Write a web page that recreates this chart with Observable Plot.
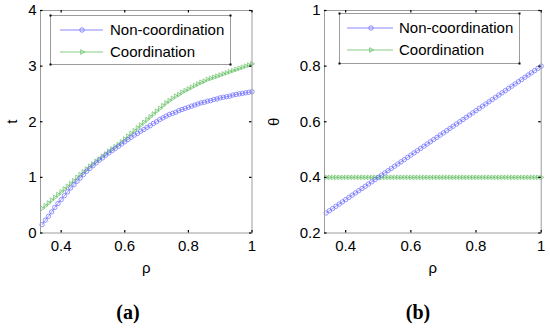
<!DOCTYPE html>
<html><head><meta charset="utf-8">
<script src="https://cdn.jsdelivr.net/npm/d3@7"></script>
<script src="https://cdn.jsdelivr.net/npm/@observablehq/plot@0.6"></script>
<style>
body{margin:0;background:#fff;}
#wrap{position:relative;width:550px;height:328px;overflow:hidden;background:#fff;font-family:"Liberation Sans",Arial,sans-serif;}
.panel{position:absolute;top:0}
.panel svg{overflow:visible}
.cap{position:absolute;font-family:"Liberation Serif","DejaVu Serif",serif;font-weight:bold;font-size:20px;transform:translateX(-50%);line-height:23px}
#legend{position:absolute;left:0;top:0;pointer-events:none}
</style></head><body>
<div id="wrap">
<div id="pa" class="panel" style="left:0"></div>
<div id="pb" class="panel" style="left:265px"></div>
<svg id="legend" width="550" height="328"></svg>
<div class="cap" style="left:128px;top:301px">(<span>a</span>)</div>
<div class="cap" style="left:418px;top:301px">(<span>b</span>)</div>
</div>
<script>
const rho = [0.34,0.35,0.36,0.37,0.38,0.39,0.40,0.41,0.42,0.43,
0.44,0.45,0.46,0.47,0.48,0.49,0.50,0.51,0.52,0.53,
0.54,0.55,0.56,0.57,0.58,0.59,0.60,0.61,0.62,0.63,
0.64,0.65,0.66,0.67,0.68,0.69,0.70,0.71,0.72,0.73,
0.74,0.75,0.76,0.77,0.78,0.79,0.80,0.81,0.82,0.83,
0.84,0.85,0.86,0.87,0.88,0.89,0.90,0.91,0.92,0.93,
0.94,0.95,0.96,0.97,0.98,0.99,1.00];

const tNon = [0.15,0.23,0.30,0.38,0.46,0.53,0.60,0.67,0.74,0.81,
0.87,0.93,0.99,1.05,1.11,1.16,1.21,1.26,1.31,1.35,
1.40,1.44,1.48,1.52,1.56,1.60,1.64,1.68,1.72,1.76,
1.79,1.83,1.86,1.90,1.93,1.97,2.00,2.04,2.07,2.10,
2.13,2.15,2.17,2.20,2.22,2.24,2.26,2.28,2.30,2.32,
2.34,2.35,2.37,2.38,2.40,2.41,2.43,2.44,2.45,2.46,
2.48,2.49,2.50,2.51,2.52,2.53,2.54];

const tCoord = [0.44,0.49,0.54,0.59,0.64,0.69,0.74,0.79,0.84,0.89,
0.94,1.00,1.05,1.10,1.15,1.20,1.24,1.29,1.33,1.38,
1.42,1.47,1.51,1.55,1.59,1.64,1.69,1.74,1.79,1.84,
1.89,1.94,1.99,2.04,2.09,2.14,2.19,2.24,2.29,2.34,
2.38,2.42,2.46,2.49,2.53,2.56,2.59,2.62,2.65,2.68,
2.71,2.73,2.76,2.78,2.80,2.82,2.84,2.86,2.88,2.90,
2.92,2.94,2.96,2.98,3.00,3.02,3.04];

const thetaNon = [0.272,0.280,0.288,0.296,0.304,0.312,0.320,0.328,0.336,0.344,
0.352,0.360,0.368,0.376,0.384,0.392,0.400,0.408,0.416,0.424,
0.432,0.440,0.448,0.456,0.464,0.472,0.480,0.488,0.496,0.504,
0.512,0.520,0.528,0.536,0.544,0.552,0.560,0.568,0.576,0.584,
0.592,0.600,0.608,0.616,0.624,0.632,0.640,0.648,0.656,0.664,
0.672,0.680,0.688,0.696,0.704,0.712,0.720,0.728,0.736,0.744,
0.752,0.760,0.768,0.776,0.784,0.792,0.800];

const thetaCoord = [0.4,0.4,0.4,0.4,0.4,0.4,0.4,0.4,0.4,0.4,
0.4,0.4,0.4,0.4,0.4,0.4,0.4,0.4,0.4,0.4,
0.4,0.4,0.4,0.4,0.4,0.4,0.4,0.4,0.4,0.4,
0.4,0.4,0.4,0.4,0.4,0.4,0.4,0.4,0.4,0.4,
0.4,0.4,0.4,0.4,0.4,0.4,0.4,0.4,0.4,0.4,
0.4,0.4,0.4,0.4,0.4,0.4,0.4,0.4,0.4,0.4,
0.4,0.4,0.4,0.4,0.4,0.4,0.4];

const xTicks = [0.4, 0.6, 0.8, 1];
const tTicks = [0, 1, 2, 3, 4];
const thetaTicks = [0.2, 0.4, 0.6, 0.8, 1];
const seriesNames = ["Non-coordination", "Coordination"];

const BLUE = "#6a6aff";
const GREEN = "#66c066";
const FONT = "'Liberation Sans', Arial, sans-serif";

function panel({w, ml, mr, yDomain, yTicks, yLabel, yLabelOffset, nonY, coY}) {
  const H = 275, mt = 10, mb = 42.5;
  const pw = w - ml - mr, ph = H - mt - mb;
  const non = rho.map((r, i) => ({r, v: nonY[i]}));
  const co = rho.map((r, i) => ({r, v: coY[i]}));
  const fmt = d => String(d);
  return Plot.plot({
    width: w, height: H, marginLeft: ml, marginRight: mr, marginTop: mt, marginBottom: mb,
    style: {fontFamily: FONT, fontSize: "15px", color: "#000", background: "transparent", overflow: "visible"},
    x: {domain: [0.335, 1]},
    y: {domain: yDomain},
    marks: [
      Plot.line(co, {x: "r", y: "v", stroke: GREEN, strokeWidth: 0.7}),
      Plot.dot(co, {x: "r", y: "v", symbol: "triangle", rotate: 90, r: 1.7, stroke: GREEN, strokeWidth: 0.7, fill: "none"}),
      Plot.line(non, {x: "r", y: "v", stroke: BLUE, strokeWidth: 0.7}),
      Plot.dot(non, {x: "r", y: "v", r: 2.2, stroke: BLUE, strokeWidth: 0.7, fill: "none"}),
      Plot.frame({stroke: "#9c9c9c"}),
      Plot.tickX(xTicks, {x: d => d, insetTop: ph - 2.5, stroke: "#000", strokeWidth: 1.2}),
      Plot.tickX(xTicks, {x: d => d, insetBottom: ph - 2.5, stroke: "#000", strokeWidth: 1.2}),
      Plot.tickY(yTicks, {y: d => d, insetRight: pw - 2.5, stroke: "#000", strokeWidth: 1.2}),
      Plot.tickY(yTicks, {y: d => d, insetLeft: pw - 2.5, stroke: "#000", strokeWidth: 1.2}),
      Plot.axisX(xTicks, {tickSize: 0, tickPadding: 7, tickFormat: fmt, label: "ρ", labelAnchor: "center", labelArrow: "none", labelOffset: 40, fontSize: 15}),
      Plot.axisY(yTicks, {tickSize: 0, tickPadding: 4, tickFormat: fmt, label: yLabel, labelAnchor: "center", labelArrow: "none", labelOffset: yLabelOffset, fontSize: 15})
    ]
  });
}

document.getElementById("pa").append(panel({w: 275, ml: 40, mr: 23.5, yDomain: [0, 4], yTicks: tTicks, yLabel: "t", yLabelOffset: 34, nonY: tNon, coY: tCoord}));
document.getElementById("pb").append(panel({w: 285, ml: 59, mr: 9.3, yDomain: [0.2, 1], yTicks: thetaTicks, yLabel: "θ", yLabelOffset: 56, nonY: thetaNon, coY: thetaCoord}));

// legends
const leg = d3.select("#legend");
const boxes = [
  {x: 50, y: 15, w: 180, h: 49, rows: [30, 52], lx0: 60, lx1: 103, mx: 82, tx: 110},
  {x: 339, y: 13, w: 180, h: 50, rows: [28, 50], lx0: 347, lx1: 393, mx: 371, tx: 399}
];
for (const b of boxes) {
  const g = leg.append("g");
  g.append("rect").attr("x", b.x + 0.5).attr("y", b.y + 0.5).attr("width", b.w).attr("height", b.h)
    .attr("fill", "#fff").attr("stroke", "#9c9c9c");
  for (const [cx, cy] of [[b.x, b.y], [b.x + b.w, b.y], [b.x, b.y + b.h], [b.x + b.w, b.y + b.h]]) {
    g.append("rect").attr("x", cx - 0.5).attr("y", cy - 0.5).attr("width", 2).attr("height", 2).attr("fill", "#000");
  }
  seriesNames.forEach((name, i) => {
    const y = b.rows[i];
    const c = i === 0 ? BLUE : GREEN;
    g.append("line").attr("x1", b.lx0).attr("x2", b.lx1).attr("y1", y).attr("y2", y).attr("stroke", c).attr("stroke-width", 0.8);
    if (i === 0) {
      g.append("circle").attr("cx", b.mx).attr("cy", y).attr("r", 2.2).attr("fill", "none").attr("stroke", c).attr("stroke-width", 0.8);
    } else {
      g.append("path").attr("d", d3.symbol(d3.symbolTriangle, Math.PI * 1.7 * 1.7)())
        .attr("transform", `translate(${b.mx},${y}) rotate(90)`).attr("fill", "none").attr("stroke", c).attr("stroke-width", 0.8);
    }
    g.append("text").attr("x", b.tx).attr("y", y).attr("dy", "0.36em").attr("font-family", FONT).attr("font-size", 15).attr("fill", "#000").text(name);
  });
}
</script>
</body></html>
